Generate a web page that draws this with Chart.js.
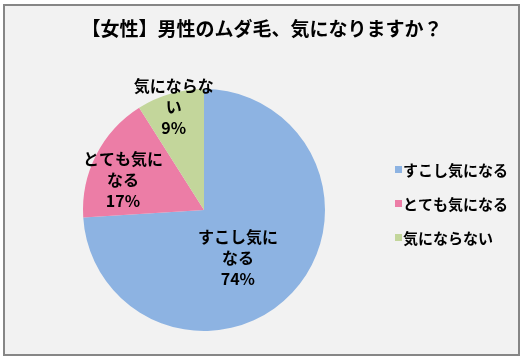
<!DOCTYPE html>
<html><head><meta charset="utf-8">
<script src="https://cdn.jsdelivr.net/npm/chart.js@4/dist/chart.umd.min.js"></script>
<style>html,body{margin:0;padding:0;background:#fff;}#wrap{width:525px;height:362px;}</style>
</head><body><div id="wrap"><canvas id="c" width="525" height="362"></canvas></div>
<script>
const titleText = "【女性】男性のムダ毛、気になりますか？";
const categories = ["すこし気になる", "とても気になる", "気にならない"];
const values = [74, 17, 9];
const percentLabels = ["74%", "17%", "9%"];
const sliceLabelLines = [["すこし気に", "なる"], ["とても気に", "なる"], ["気にならな", "い"]];
const colors = ["#8DB3E2", "#EC7DA6", "#C3D69B"];

const FONT = '"Noto Sans CJK JP", "Noto Sans", sans-serif';

const framePlugin = {
  id: 'frame',
  beforeDraw(chart) {
    const ctx = chart.ctx;
    ctx.save();
    ctx.fillStyle = '#ffffff';
    ctx.fillRect(0, 0, chart.width, chart.height);
    ctx.fillStyle = '#F2F2F2';
    ctx.fillRect(3, 5, 516, 350);
    ctx.strokeStyle = '#868686';
    ctx.lineWidth = 2;
    ctx.strokeRect(4, 5, 515, 350);
    ctx.restore();
  },
  afterDraw(chart) {
    const ctx = chart.ctx;
    ctx.save();
    // title
    ctx.fillStyle = '#000';
    ctx.font = 'bold 19px ' + FONT;
    ctx.textAlign = 'center';
    ctx.textBaseline = 'middle';
    ctx.fillText(titleText, 262, 29);
    // slice labels, placed relative to the arc's centre and radius
    const meta = chart.getDatasetMeta(0);
    const rel = [[0.28, 0.40], [-0.67, -0.25], [-0.25, -0.85]];
    meta.data.forEach((arc, i) => {
      const p = arc.getProps(['x', 'y', 'outerRadius'], true);
      const cx = p.x + rel[i][0] * p.outerRadius;
      const cy = p.y + rel[i][1] * p.outerRadius;
      const lines = sliceLabelLines[i].concat([percentLabels[i]]);
      const lh = 21;
      ctx.fillStyle = '#000';
      ctx.textAlign = 'center';
      ctx.textBaseline = 'middle';
      lines.forEach((t, j) => {
        ctx.font = 'bold 16px ' + FONT;
        ctx.fillText(t, cx, cy + (j - (lines.length - 1) / 2) * lh);
      });
    });
    // legend
    const lx = 395, ly0 = 170, lgap = 34;
    categories.forEach((c, i) => {
      const y = ly0 + i * lgap;
      ctx.fillStyle = colors[i];
      ctx.fillRect(lx, y - 4, 7, 7);
      ctx.fillStyle = '#000';
      ctx.font = 'bold 15px ' + FONT;
      ctx.textAlign = 'left';
      ctx.textBaseline = 'middle';
      ctx.fillText(c, lx + 8, y);
    });
    ctx.restore();
  }
};

new Chart(document.getElementById('c'), {
  type: 'pie',
  data: {
    labels: categories,
    datasets: [{ data: values, backgroundColor: colors, borderWidth: 0 }]
  },
  options: {
    responsive: false,
    animation: false,
    layout: { padding: { left: 83, right: 200, top: 89, bottom: 31 } },
    plugins: { legend: { display: false }, title: { display: false }, tooltip: { enabled: false } }
  },
  plugins: [framePlugin]
});
</script></body></html>
